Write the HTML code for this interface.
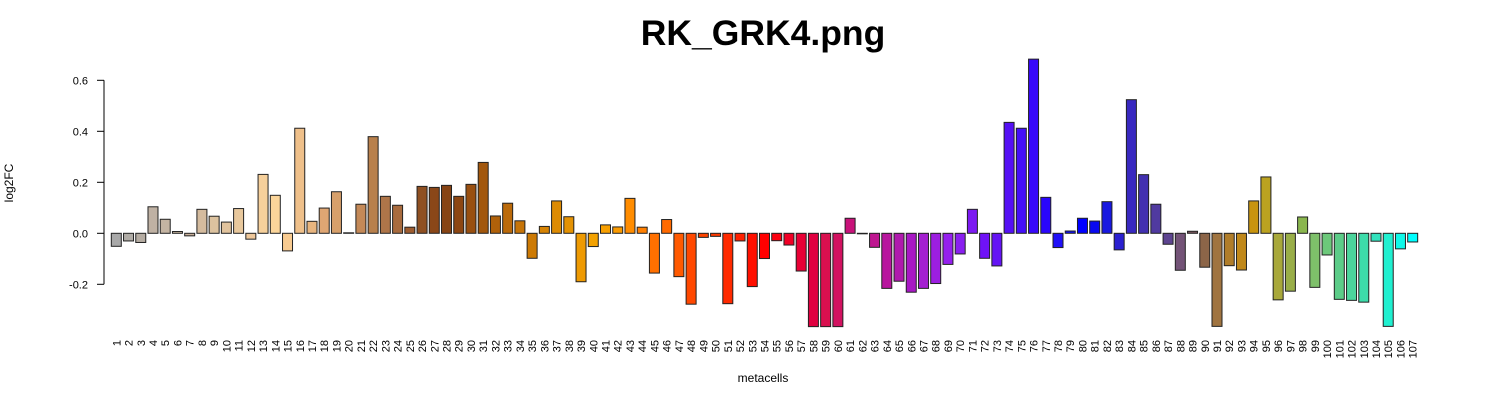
<!DOCTYPE html>
<html><head><meta charset="utf-8"><style>
body{margin:0;background:#fff;}
svg{display:block;font-family:"Liberation Sans",sans-serif;}
</style></head><body>
<svg id="chart" width="1500" height="400" viewBox="0 0 1500 400" xmlns="http://www.w3.org/2000/svg">
<text x="763" y="45" text-anchor="middle" font-size="35.5" font-weight="bold">RK_GRK4.png</text>
<text x="763" y="382" text-anchor="middle" font-size="12">metacells</text>
<text transform="translate(13,183) rotate(-90)" text-anchor="middle" font-size="12">log2FC</text>
<g id="yaxis"></g>
<g id="bars"></g>
<g id="xlabels"></g>
</svg>
<script>
const values = [-0.051,-0.03,-0.036,0.104,0.055,0.007,-0.01,0.094,0.067,0.044,0.097,-0.023,0.231,0.149,-0.069,0.412,0.047,0.099,0.163,0.002,
0.114,0.379,0.145,0.11,0.024,0.184,0.18,0.188,0.145,0.192,0.278,0.068,0.118,0.049,-0.098,0.027,0.127,0.065,-0.19,-0.052,
0.033,0.025,0.137,0.024,-0.156,0.054,-0.17,-0.278,-0.016,-0.012,-0.276,-0.03,-0.209,-0.099,-0.029,-0.046,-0.148,-0.366,-0.366,-0.366,
0.059,-0.002,-0.055,-0.216,-0.188,-0.231,-0.216,-0.197,-0.122,-0.081,0.094,-0.098,-0.128,0.435,0.412,0.683,0.141,-0.056,0.009,0.059,
0.048,0.124,-0.065,0.524,0.23,0.114,-0.043,-0.145,0.008,-0.133,-0.365,-0.127,-0.144,0.127,0.221,-0.261,-0.227,0.064,-0.212,-0.085,
-0.259,-0.263,-0.27,-0.031,-0.365,-0.061,-0.034];
const categories = values.map((v,i)=>String(i+1));
const colors = ["#a8a8a8","#b0aca6","#b5aca2","#bfb1a3","#c4b4a2","#c9b6a0","#c9b09b","#d4bb9e","#dcc29f","#e1c39d","#e8c89d","#eec79a","#f6d09b","#fbd59a","#f8cb91","#efc08a","#e8b57f","#dfa673","#d7a06b","#cc9460",
"#c48958","#b8804c","#ae7549","#a86b3e","#9e5c2f","#8f5022","#8a4718","#874414","#8d4612","#994f10","#a2570d","#b0610a","#bb6a0a","#c67408","#cd7a04","#d68304","#dd8b03","#e49203","#ee9a02","#f3a201",
"#f79f00","#fa9a00","#ff8c00","#ff7f00","#ff7000","#ff6a00","#ff5a00","#ff4800","#ff4400","#ff3a00","#ff2a00","#ff2000","#ff1000","#ff0000","#fb0010","#f00025","#e80035","#e00040","#d9104f","#d21260",
"#c8127a","#c41384","#be1690","#b8169e","#b01aad","#a818c4","#a420d0","#9c1ee0","#9520ee","#8a1ff0","#7c1af2","#6f12f6","#6414f4","#5510f5","#4410f8","#3808fa","#2a06fc","#2010f8","#1010fa","#0000ff",
"#0808f0","#1818e0","#2a20d0","#3828c0","#4230b0","#503aa0","#5d4490","#735377","#7e5a62","#8c6548","#a07440","#b07d2a","#c0881a","#c8940e","#bba220","#a8a83a","#99ae48","#8ab64e","#7ec06a","#6cc87a",
"#5ccc88","#4cd49c","#3ddcaa","#32e2bd","#20f0d0","#10f8e8","#00ffff"];
const yTicks = [-0.2,0.0,0.2,0.4,0.6];
const yTickLabels = ["-0.2","0.0","0.2","0.4","0.6"];

const NS="http://www.w3.org/2000/svg";
const y0=233.3, scale=255;
function yScale(v){return y0 - v*scale;}
const firstX=116.3, step=12.23, bw=10;
function xScale(i){return firstX + i*step;}

const yaxis=document.getElementById('yaxis');
const axisLine=document.createElementNS(NS,'line');


axisLine.setAttribute('x1',104);axisLine.setAttribute('x2',104);
axisLine.setAttribute('y1',yScale(0.6));axisLine.setAttribute('y2',yScale(-0.2));
axisLine.setAttribute('stroke','#000');
yaxis.appendChild(axisLine);
yTicks.forEach((t,k)=>{
  const ln=document.createElementNS(NS,'line');
  
  
  ln.setAttribute('x1',97);ln.setAttribute('x2',104);
  ln.setAttribute('y1',yScale(t));ln.setAttribute('y2',yScale(t));
  ln.setAttribute('stroke','#000');
  yaxis.appendChild(ln);
  const tx=document.createElementNS(NS,'text');
  
  
  tx.setAttribute('x',88);tx.setAttribute('y',yScale(t)+4);
  tx.setAttribute('text-anchor','end');tx.setAttribute('font-size','11');
  tx.textContent=yTickLabels[k];
  yaxis.appendChild(tx);
});

const bars=document.getElementById('bars');
const xl=document.getElementById('xlabels');
values.forEach((v,i)=>{
  const r=document.createElementNS(NS,'rect');
  
  
  const cx=xScale(i);
  const top=Math.min(yScale(v),y0), h=Math.max(Math.abs(yScale(v)-y0),0.5);
  r.setAttribute('x',cx-bw/2);r.setAttribute('y',top);
  r.setAttribute('width',bw);r.setAttribute('height',h);
  r.setAttribute('fill',colors[i]);r.setAttribute('stroke','#222');r.setAttribute('stroke-width','1');
  bars.appendChild(r);
  const t=document.createElementNS(NS,'text');
  
  
  t.setAttribute('transform','translate('+(cx+4)+',340) rotate(-90)');
  t.setAttribute('text-anchor','end');t.setAttribute('font-size','11');
  t.textContent=categories[i];
  xl.appendChild(t);
});
</script>
</body></html>
